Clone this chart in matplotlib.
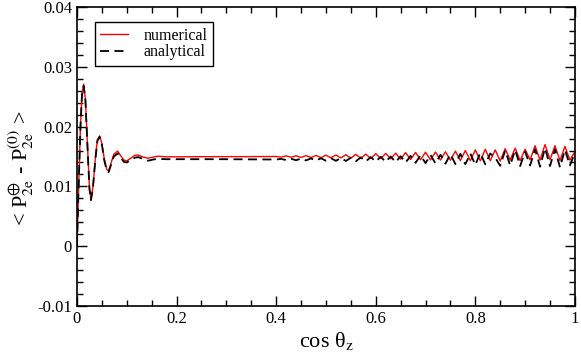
import numpy as np
import matplotlib
matplotlib.use("Agg")
import matplotlib.pyplot as plt
from matplotlib.ticker import MultipleLocator, FuncFormatter

plt.rcParams['font.family'] = ['Liberation Serif', 'DejaVu Serif']
plt.rcParams['mathtext.fontset'] = 'stix'
plt.rcParams['axes.unicode_minus'] = False

# numerical curve
x_num = [0.0, 0.003, 0.007, 0.010, 0.0134, 0.017, 0.021, 0.025, 0.028, 0.032,
         0.037, 0.041, 0.0455, 0.050, 0.055, 0.060, 0.0636, 0.068, 0.074, 0.0817,
         0.088, 0.094, 0.100, 0.108, 0.116, 0.123, 0.133, 0.143, 0.153, 0.163,
         0.18, 0.20, 0.25, 0.30, 0.35,
         0.40, 0.41, 0.42, 0.43, 0.44, 0.45, 0.46, 0.47, 0.48, 0.49,
         0.50, 0.51, 0.52, 0.53, 0.54, 0.55, 0.56, 0.57, 0.58, 0.59,
         0.60, 0.61, 0.62, 0.63, 0.64, 0.65, 0.66, 0.67, 0.68, 0.69,
         0.70, 0.71, 0.72, 0.73, 0.74, 0.75, 0.76, 0.77, 0.78, 0.79,
         0.80, 0.81, 0.82, 0.83, 0.84, 0.85, 0.86, 0.87, 0.88, 0.89,
         0.90, 0.91, 0.92, 0.93, 0.94, 0.95, 0.96, 0.97, 0.98, 0.99, 1.00]
y_num = [0.0, 0.0090, 0.0200, 0.0255, 0.0271, 0.0245, 0.0170, 0.0098, 0.0078, 0.0098,
         0.0148, 0.0178, 0.01845, 0.0172, 0.0145, 0.0128, 0.0126, 0.0138, 0.0154, 0.0159,
         0.0151, 0.0144, 0.01427, 0.0147, 0.0152, 0.01525, 0.0149, 0.01472, 0.0149, 0.01505,
         0.01495, 0.01495, 0.01497, 0.01498, 0.01498,
         0.01500, 0.01490, 0.01510, 0.01488, 0.01512, 0.01485, 0.01515, 0.01482, 0.01518, 0.01480,
         0.01522, 0.01478, 0.01525, 0.01476, 0.01530, 0.01472, 0.01535, 0.01470, 0.01540, 0.01468,
         0.01548, 0.01465, 0.01552, 0.01462, 0.01556, 0.01455, 0.01565, 0.01450, 0.01568, 0.01445,
         0.01572, 0.01442, 0.01575, 0.01440, 0.01580, 0.01438, 0.01590, 0.01432, 0.01600, 0.01430,
         0.01610, 0.01428, 0.01620, 0.01430, 0.01610, 0.01425, 0.01630, 0.01440, 0.01640, 0.01430,
         0.01620, 0.01445, 0.01680, 0.01440, 0.01700, 0.01445, 0.01680, 0.01430, 0.01670, 0.01440, 0.01580]

# analytical curve
x_ana = x_num
y_ana = [0.0, 0.0090, 0.0200, 0.0253, 0.0268, 0.0243, 0.0168, 0.0096, 0.0077, 0.0097,
         0.0146, 0.0176, 0.0183, 0.0170, 0.0143, 0.0126, 0.0124, 0.0135, 0.0150, 0.0155,
         0.0148, 0.0141, 0.0140, 0.0144, 0.0148, 0.0149, 0.0146, 0.0143, 0.0145, 0.0146,
         0.01455, 0.01455, 0.01455, 0.01455, 0.01452,
         0.01450, 0.01460, 0.01440, 0.01462, 0.01438, 0.01465, 0.01435, 0.01468, 0.01432, 0.01470,
         0.01430, 0.01472, 0.01428, 0.01476, 0.01425, 0.01480, 0.01420, 0.01485, 0.01418, 0.01490,
         0.01415, 0.01495, 0.01410, 0.01500, 0.01405, 0.01505, 0.01400, 0.01510, 0.01395, 0.01520,
         0.01390, 0.01525, 0.01385, 0.01530, 0.01380, 0.01540, 0.01375, 0.01545, 0.01370, 0.01550,
         0.01360, 0.01560, 0.01370, 0.01550, 0.01480, 0.01345, 0.01600, 0.01350, 0.01610, 0.01340,
         0.01580, 0.01350, 0.01620, 0.01330, 0.01640, 0.01340, 0.01620, 0.01320, 0.01610, 0.01350, 0.01560]

fig = plt.figure(figsize=(5.81, 3.54), dpi=100)
ax = fig.add_axes([0.1325, 0.1356, 0.857, 0.8446])

ax.plot(x_num, y_num, color='red', lw=1.0, label='numerical')
ax.plot(x_ana, y_ana, color='black', lw=1.3, dashes=(5, 3), label='analytical')

ax.set_xlim(0, 1)
ax.set_ylim(-0.01, 0.04)
ax.xaxis.set_major_locator(MultipleLocator(0.2))
ax.xaxis.set_minor_locator(MultipleLocator(0.05))
ax.yaxis.set_major_locator(MultipleLocator(0.01))
ax.yaxis.set_minor_locator(MultipleLocator(0.002))
fmt = FuncFormatter(lambda v, p: '%g' % round(v, 4))
ax.xaxis.set_major_formatter(fmt)
ax.yaxis.set_major_formatter(fmt)
ax.tick_params(which='both', direction='in', top=True, right=True, width=1.0, labelsize=12)
ax.tick_params(which='major', length=7)
ax.tick_params(which='minor', length=4)
for s in ax.spines.values():
    s.set_linewidth(1.2)

ax.set_xlabel(r'cos θ$_{\rm z}$', fontsize=16, labelpad=2)
ax.set_ylabel(r'< P$^{\oplus}_{\rm 2e}$ - P$^{(0)}_{\rm 2e}$ >', fontsize=16)
ax.yaxis.set_label_coords(-0.082, 0.46)

leg = ax.legend(loc='upper left', bbox_to_anchor=(0.036, 0.95), borderaxespad=0,
                fontsize=11.5, fancybox=False, edgecolor='black', framealpha=1,
                handlelength=1.7, handletextpad=1.0, borderpad=0.35, labelspacing=0.05)
leg.get_frame().set_linewidth(1.0)

fig.savefig('out.png', dpi=100)
